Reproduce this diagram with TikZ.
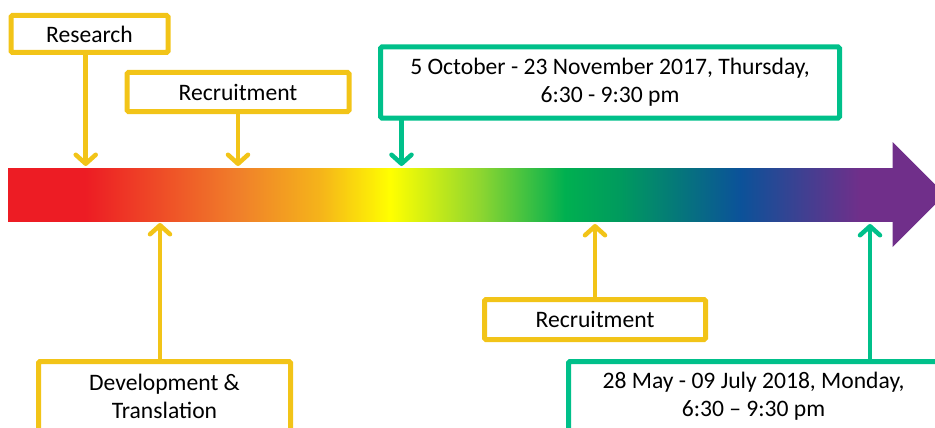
\documentclass[tikz,border=0pt]{standalone}
\usepackage{fontspec}
\setmainfont{Carlito}
\usetikzlibrary{arrows.meta}
\definecolor{ybox}{RGB}{242,196,24}
\definecolor{gbox}{RGB}{0,192,138}
\definecolor{cA}{RGB}{237,28,36}
\definecolor{cB}{RGB}{240,128,42}
\definecolor{cC}{RGB}{245,180,26}
\definecolor{cD}{RGB}{255,255,0}
\definecolor{cE}{RGB}{142,214,48}
\definecolor{cF}{RGB}{0,176,80}
\definecolor{cG}{RGB}{0,154,94}
\definecolor{cH}{RGB}{11,82,153}
\definecolor{cI}{RGB}{112,47,138}
\pgfdeclarehorizontalshading{rainbow}{100bp}{color(0bp)=(cA); color(25bp)=(cA); color(29.35bp)=(cA); color(38.1bp)=(cB); color(42.65bp)=(cC); color(46.6bp)=(cD); color(51.65bp)=(cE); color(56.45bp)=(cF); color(59.6bp)=(cG); color(66.35bp)=(cH); color(73.15bp)=(cI); color(75bp)=(cI); color(100bp)=(cI)}
\tikzset{
  box/.style={draw=#1, line width=5, fill=white, rounded corners=1.5, font=\fontsize{23.6}{28}\selectfont, align=center, inner sep=0pt, text=black},
  conn/.style={draw=#1, line width=4.5, line cap=round, -{Straight Barb[length=9pt,width=20pt,round]}}
}
\begin{document}
\begin{tikzpicture}[x=1pt,y=-1pt]
\useasboundingbox (0,0) rectangle (935,428);
\clip (0,0) rectangle (935,428);
% timeline bar
\shade[shading=rainbow] (8,168) rectangle (893,221);
\fill[cI] (892.5,142) -- (945,194.5) -- (892.5,247) -- cycle;
% boxes
\node[box=ybox, minimum width=157, minimum height=37] (research) at (89.5,34) {Research};
\node[box=ybox, minimum width=222, minimum height=39] (recA) at (238,92) {Recruitment};
\node[box=gbox, minimum width=459, minimum height=71] (oct) at (610,82.5) {5 October - 23 November 2017, Thursday,\\6:30 - 9:30 pm};
\node[box=ybox, minimum width=252, minimum height=70] (dev) at (164.5,396.5) {Development \&\\Translation};
\node[box=ybox, minimum width=221, minimum height=40] (recB) at (595,319.5) {Recruitment};
\node[box=gbox, minimum width=370, minimum height=70] (may) at (753.5,396.5) {28 May - 09 July 2018, Monday,\\6:30 – 9:30 pm};
% arrow ends on the bar
\coordinate (tResearch) at (85.7,166);
\coordinate (tRecA) at (238,166);
\coordinate (tOct) at (401.5,166);
\coordinate (tDev) at (160,223);
\coordinate (tRecB) at (595,224);
\coordinate (tMay) at (870,224);
% connectors
\draw[conn=ybox] (research.south -| tResearch) -- (tResearch);
\draw[conn=ybox] (recA.south -| tRecA) -- (tRecA);
\draw[conn=gbox] (oct.south -| tOct) -- (tOct);
\draw[conn=ybox] (dev.north -| tDev) -- (tDev);
\draw[conn=ybox] (recB.north -| tRecB) -- (tRecB);
\draw[conn=gbox] (may.north -| tMay) -- (tMay);
\end{tikzpicture}
\end{document}
